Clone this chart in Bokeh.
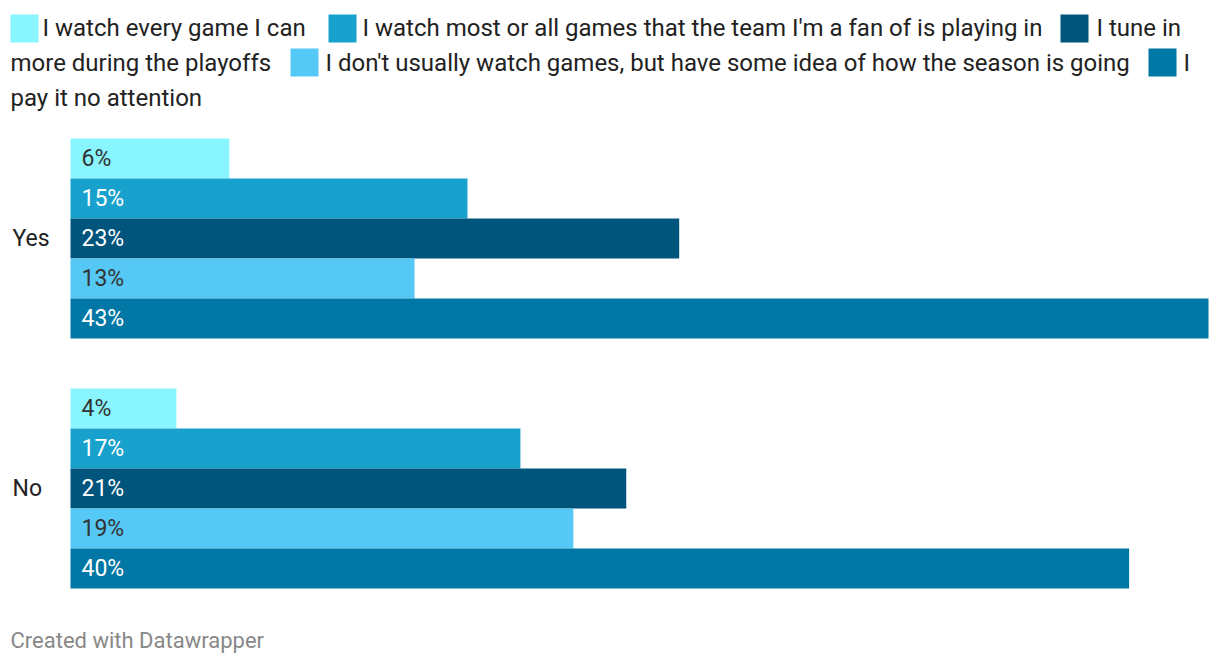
from bokeh.plotting import figure
from bokeh.models import Range1d, ColumnDataSource
from bokeh.core.properties import value
from bokeh.embed import file_html
from bokeh.resources import INLINE

# ---- data ----
groups = ["Yes", "No"]
series = [
    "I watch every game I can",
    "I watch most or all games that the team I'm a fan of is playing in",
    "I tune in more during the playoffs",
    "I don't usually watch games, but have some idea of how the season is going",
    "I pay it no attention",
]
yes_values = [6, 15, 23, 13, 43]
no_values = [4, 17, 21, 19, 40]
colors = ["#88f5ff", "#18a1cd", "#00557c", "#56c8f5", "#0077a4"]
label_colors = ["#333333", "#ffffff", "#ffffff", "#333333", "#ffffff"]

W, H = 1212, 656
FONT = "Roboto"
x0_px, xmax_px = 70, 1208
scale = (xmax_px - x0_px) / max(yes_values + no_values)

p = figure(width=W, height=H, output_backend="svg", toolbar_location=None,
           x_range=Range1d(-x0_px / scale, (W - x0_px) / scale),
           y_range=Range1d(H, 0), min_border=0)
p.extra_x_ranges = {"px": Range1d(0, W)}
p.axis.visible = False
p.grid.visible = False
p.outline_line_color = None
p.background_fill_color = "white"
p.border_fill_color = "white"

bar_h = 40
group_tops = [138, 388]
ys, vals, cols, lcols, txt, gy = [], [], [], [], [], []
for g, top, vlist in zip(groups, group_tops, [yes_values, no_values]):
    for i, v in enumerate(vlist):
        ys.append(top + bar_h / 2 + i * bar_h)
        vals.append(v)
        cols.append(colors[i])
        lcols.append(label_colors[i])
        txt.append(f"{v}%")
    gy.append(top + bar_h * len(vlist) / 2)

src = ColumnDataSource(dict(y=ys, right=vals, color=cols, lcol=lcols, txt=txt, zero=[0] * len(ys)))
p.hbar(y="y", left=0, right="right", height=bar_h, fill_color="color", line_color=None, source=src)
p.text(x="zero", y="y", text="txt", source=src, x_offset=11, text_color="lcol",
       text_font=value(FONT), text_font_size="23px", text_baseline="middle", text_align="left")

# group labels
p.text(x=[12, 12], y=gy, text=groups, x_range_name="px", text_color="#222222",
       text_font=value(FONT), text_font_size="23px", text_baseline="middle")

# legend (wrapped flow layout)
sq_x = [10, 328, 1060, 290, 1148]
sq_y = [28, 28, 28, 62, 62]
p.rect(x=[sx + 14 for sx in sq_x], y=sq_y, width=28, height=28, x_range_name="px",
       fill_color=colors, line_color=None)
leg_texts = [series[0], series[1], "I tune in", "more during the playoffs", series[3], "I", "pay it no attention"]
leg_x = [42, 362, 1096, 10, 325, 1183, 10]
leg_y = [27, 27, 27, 62, 62, 62, 97]
p.text(x=leg_x, y=leg_y, text=leg_texts, x_range_name="px", text_color="#222222",
       text_font=value(FONT), text_font_size="24px", text_baseline="middle")

# footer
p.text(x=[10], y=[640], text=["Created with Datawrapper"], x_range_name="px", text_color="#888888",
       text_font=value(FONT), text_font_size="22px", text_baseline="middle")

open("out.html", "w").write(file_html(p, INLINE))
